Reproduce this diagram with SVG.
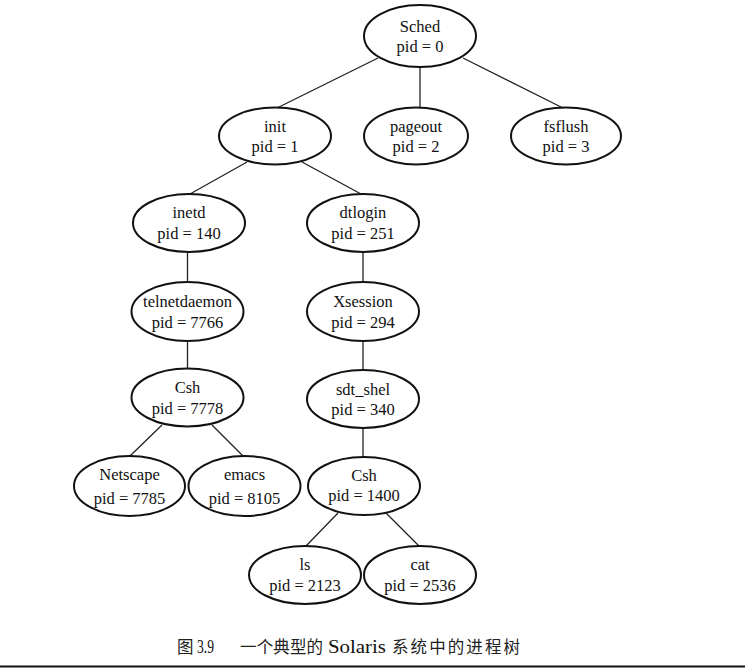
<svg xmlns="http://www.w3.org/2000/svg" width="745" height="669" viewBox="0 0 745 669">
<style>
.n ellipse{fill:#fff;stroke:#111;stroke-width:2}
.n text{font-family:"Liberation Serif","Times New Roman",serif;font-size:16.5px;fill:#111;text-anchor:middle}
.c line{stroke:#222;stroke-width:1.3}
.cj{font-family:"Noto Sans CJK SC",sans-serif;font-size:16.5px;fill:#222}
.la{font-family:"Liberation Serif","Times New Roman",serif;font-size:19px;fill:#111}
</style>
<rect width="745" height="669" fill="#fff"/>
<g id="connectors" class="c">
<line x1="378" y1="58" x2="277" y2="108"/>
<line x1="420" y1="67" x2="420" y2="108"/>
<line x1="463" y1="58" x2="563" y2="108"/>
<line x1="247" y1="162" x2="190" y2="194"/>
<line x1="302" y1="162" x2="361" y2="194"/>
<line x1="187.5" y1="252" x2="187.5" y2="282"/>
<line x1="363" y1="252" x2="363" y2="282"/>
<line x1="187.5" y1="341" x2="187.5" y2="369"/>
<line x1="363" y1="340" x2="363" y2="370"/>
<line x1="162" y1="425" x2="130" y2="456"/>
<line x1="212" y1="425" x2="243" y2="456"/>
<line x1="363" y1="428" x2="363" y2="457"/>
<line x1="338" y1="513" x2="306" y2="546"/>
<line x1="386" y1="513" x2="419" y2="546"/>
</g>
<g id="sched" class="n"><ellipse cx="420" cy="36" rx="56" ry="31"/><text x="420" y="32">Sched</text><text x="420" y="52">pid = 0</text></g>
<g id="init" class="n"><ellipse cx="275" cy="136" rx="56" ry="28.5"/><text x="275" y="131.5">init</text><text x="275" y="152">pid = 1</text></g>
<g id="pageout" class="n"><ellipse cx="416" cy="136" rx="52" ry="28.5"/><text x="416" y="131.5">pageout</text><text x="416" y="152">pid = 2</text></g>
<g id="fsflush" class="n"><ellipse cx="566" cy="136" rx="55" ry="28.5"/><text x="566" y="131.5">fsflush</text><text x="566" y="152">pid = 3</text></g>
<g id="inetd" class="n"><ellipse cx="189" cy="223" rx="56" ry="29"/><text x="189" y="218">inetd</text><text x="189" y="238.5">pid = 140</text></g>
<g id="dtlogin" class="n"><ellipse cx="363" cy="223" rx="56" ry="29"/><text x="363" y="218">dtlogin</text><text x="363" y="238.5">pid = 251</text></g>
<g id="telnetdaemon" class="n"><ellipse cx="187.5" cy="311.5" rx="56" ry="29.5"/><text x="187.5" y="307">telnetdaemon</text><text x="187.5" y="327.5">pid = 7766</text></g>
<g id="xsession" class="n"><ellipse cx="363" cy="311.5" rx="56" ry="29.5"/><text x="363" y="307">Xsession</text><text x="363" y="327.5">pid = 294</text></g>
<g id="csh7778" class="n"><ellipse cx="187.5" cy="397.5" rx="56" ry="29"/><text x="187.5" y="393">Csh</text><text x="187.5" y="413.5">pid = 7778</text></g>
<g id="sdt_shel" class="n"><ellipse cx="363" cy="399" rx="56" ry="29"/><text x="363" y="394.5">sdt_shel</text><text x="363" y="415">pid = 340</text></g>
<g id="netscape" class="n"><ellipse cx="129.5" cy="486" rx="55.5" ry="30"/><text x="129.5" y="480">Netscape</text><text x="129.5" y="504">pid = 7785</text></g>
<g id="emacs" class="n"><ellipse cx="244.5" cy="486" rx="56" ry="30"/><text x="244.5" y="480">emacs</text><text x="244.5" y="504">pid = 8105</text></g>
<g id="csh1400" class="n"><ellipse cx="364" cy="486" rx="56" ry="29"/><text x="364" y="481">Csh</text><text x="364" y="501">pid = 1400</text></g>
<g id="ls" class="n"><ellipse cx="305" cy="575" rx="56" ry="29"/><text x="305" y="570">ls</text><text x="305" y="590.5">pid = 2123</text></g>
<g id="cat" class="n"><ellipse cx="420" cy="575" rx="56" ry="29"/><text x="420" y="570">cat</text><text x="420" y="590.5">pid = 2536</text></g>
<g id="caption">
<text class="cj" x="177" y="653">图</text>
<text class="la" x="197" y="653" textLength="17" lengthAdjust="spacingAndGlyphs">3.9</text>
<text class="cj" x="240" y="653" textLength="83" lengthAdjust="spacing">一个典型的</text>
<text class="la" x="328" y="653" textLength="58" lengthAdjust="spacingAndGlyphs">Solaris</text>
<text class="cj" x="392" y="653" textLength="128" lengthAdjust="spacing">系统中的进程树</text>
<line x1="0" y1="666.5" x2="745" y2="666.5" stroke="#111" stroke-width="2"/>
</g>
</svg>
